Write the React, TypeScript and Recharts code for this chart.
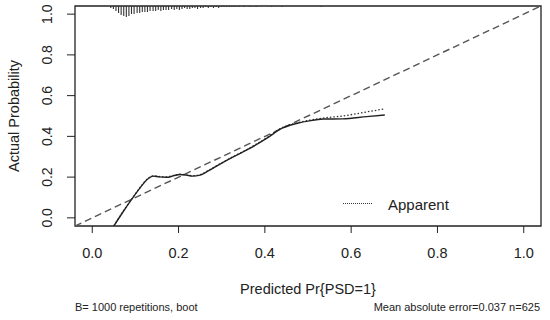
import { ComposedChart, Line, Bar, XAxis, YAxis, ReferenceArea, Label } from 'recharts';

// axis ticks
const xTicks = [0, 0.2, 0.4, 0.6, 0.8, 1.0];
const yTicks = [0, 0.2, 0.4, 0.6, 0.8, 1.0];

// ideal 45 degree reference
const idealX = [-0.04, 1.04];
const idealY = [-0.04, 1.04];

// calibration curves
const predX = [0.05, 0.07, 0.09, 0.11, 0.13, 0.141, 0.155, 0.172, 0.188, 0.203, 0.218, 0.232, 0.25, 0.27, 0.292, 0.32, 0.365, 0.404, 0.44, 0.46, 0.48, 0.5, 0.535, 0.58, 0.636, 0.678];
const biasCorrected = [-0.04, 0.025, 0.087, 0.145, 0.193, 0.205, 0.201, 0.199, 0.206, 0.213, 0.21, 0.205, 0.21, 0.232, 0.259, 0.292, 0.341, 0.39, 0.44, 0.456, 0.467, 0.475, 0.485, 0.486, 0.497, 0.505];
const apparent = [-0.04, 0.027, 0.088, 0.147, 0.195, 0.206, 0.203, 0.201, 0.208, 0.214, 0.211, 0.207, 0.212, 0.234, 0.26, 0.293, 0.343, 0.393, 0.443, 0.458, 0.469, 0.478, 0.49, 0.5, 0.52, 0.535];

// distribution of predictions (rug at top)
const rugX = [0.043, 0.049, 0.055, 0.061, 0.067, 0.073, 0.079, 0.085, 0.091, 0.097, 0.104, 0.11, 0.116, 0.122, 0.128, 0.134, 0.141, 0.147, 0.153, 0.159, 0.165, 0.171, 0.177, 0.184, 0.19, 0.196, 0.202, 0.208, 0.214, 0.22, 0.226, 0.232, 0.238, 0.244, 0.251, 0.257, 0.263, 0.269, 0.275, 0.281, 0.287, 0.293, 0.299, 0.305, 0.312, 0.318, 0.324, 0.33, 0.34, 0.352, 0.365, 0.38, 0.416, 0.44, 0.53];
const rugN = [2, 3, 5, 7, 9, 10, 11, 10, 8, 8, 7, 7, 6, 6, 6, 5, 5, 5, 4, 5, 4, 4, 4, 3, 4, 3, 4, 3, 2, 3, 3, 2, 2, 3, 2, 2, 1, 2, 1, 2, 1, 2, 1, 1, 1, 1, 1, 1, 1, 1, 1, 1, 1, 1, 1];

const rug = rugX.map((x, i) => ({ x, n: rugN[i] }));
const ideal = idealX.map((x, i) => ({ x, y: idealY[i] }));
const biasData = predX.map((x, i) => ({ x, y: biasCorrected[i] }));
const appData = predX.map((x, i) => ({ x, y: apparent[i] }));

const FONT = '"Liberation Sans", Arial, sans-serif';
const INK = '#222';

const YTick = ({ x, y, payload }: any) => (
  <text
    x={x}
    y={y}
    transform={`rotate(-90 ${x} ${y})`}
    textAnchor="middle"
    fontSize={14}
    fill={INK}
    fontFamily={FONT}
  >
    {Number(payload.value).toFixed(1)}
  </text>
);

// one rug tick, drawn at the centre of the bar recharts places
const RugTick = ({ x, y, width, height }: any) => {
  const cx = x + width / 2;
  return <line x1={cx} x2={cx} y1={y} y2={y + height} stroke="#333" strokeWidth={1.1} />;
};

export default function App() {
  return (
    <div style={{ position: 'absolute', left: 0, top: 0, width: 550, height: 320, background: '#fff', fontFamily: FONT }}>
      <ComposedChart width={550} height={320} data={rug} margin={{ top: 6, right: 9, bottom: 54, left: 0 }}>
        <XAxis
          dataKey="x"
          type="number"
          domain={[-0.04, 1.04]}
          allowDataOverflow
          ticks={xTicks}
          tickFormatter={(v: number) => v.toFixed(1)}
          axisLine={false}
          tickLine={{ stroke: INK }}
          tickSize={7}
          tickMargin={15}
          height={40}
          tick={{ fontSize: 14.5, fill: INK, fontFamily: FONT }}
        >
          <Label value="Predicted Pr{PSD=1}" position="bottom" offset={18} style={{ fontSize: 14.5, fill: INK, fontFamily: FONT }} />
        </XAxis>
        <YAxis
          type="number"
          domain={[-0.04, 1.04]}
          allowDataOverflow
          ticks={yTicks}
          axisLine={false}
          tickLine={{ stroke: INK }}
          tickSize={8}
          tickMargin={15}
          width={75}
          tick={<YTick />}
        >
          <Label value="Actual Probability" angle={-90} position="insideLeft" offset={14} style={{ fontSize: 14.5, fill: INK, fontFamily: FONT, textAnchor: 'middle' }} />
        </YAxis>
        <YAxis yAxisId="rug" hide reversed domain={[0, 220]} />
        <Bar yAxisId="rug" dataKey="n" barSize={1} fill="#333" shape={<RugTick />} isAnimationActive={false} />
        <Line data={ideal} dataKey="y" type="linear" stroke="#555" strokeWidth={1.4} strokeDasharray="7 4" dot={false} isAnimationActive={false} />
        <Line data={appData} dataKey="y" type="monotone" stroke="#333" strokeWidth={1.3} strokeDasharray="1.5 2" dot={false} isAnimationActive={false} />
        <Line data={biasData} dataKey="y" type="monotone" stroke="#222" strokeWidth={1.4} dot={false} isAnimationActive={false} />
        <ReferenceArea x1={-0.04} x2={1.04} y1={-0.04} y2={1.04} fill="none" stroke={INK} strokeWidth={1.3} ifOverflow="visible" />
      </ComposedChart>

      {/* legend */}
      <div style={{ position: 'absolute', left: 343, top: 203, width: 29, borderTop: '1.5px dotted #333' }} />
      <div style={{ position: 'absolute', left: 388, top: 197, fontSize: 15, lineHeight: '15px', color: INK }}>Apparent</div>

      {/* subtitles */}
      <div style={{ position: 'absolute', left: 75, top: 302, fontSize: 11, lineHeight: '11px', color: INK }}>B= 1000 repetitions, boot</div>
      <div style={{ position: 'absolute', right: 10, top: 302, fontSize: 11, lineHeight: '11px', color: INK }}>Mean absolute error=0.037 n=625</div>
    </div>
  );
}
